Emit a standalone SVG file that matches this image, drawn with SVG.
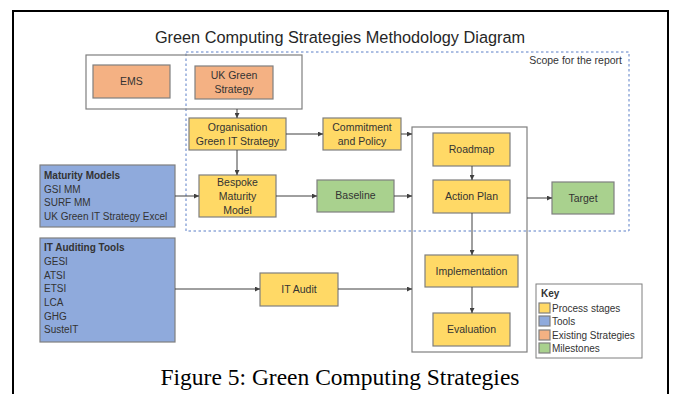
<svg xmlns="http://www.w3.org/2000/svg" width="673" height="394" viewBox="0 0 673 394">
<defs>
<style>
.t{font-family:"Liberation Sans",Arial,sans-serif;fill:#333;}
.box{stroke:#7f7f7f;stroke-width:1.2;}
.y{fill:#ffd966;}
.b{fill:#8faadc;}
.o{fill:#f4b183;}
.g{fill:#a9d18e;}
.c{stroke:#404040;stroke-width:1;fill:none;marker-end:url(#ah);}
.lbl{font-size:10.5px;text-anchor:middle;}
.lst{font-size:10px;}
</style>
<marker id="ah" viewBox="0 0 6 6" refX="6" refY="3" markerWidth="5" markerHeight="5" orient="auto" markerUnits="userSpaceOnUse">
<path d="M0,0 L6,3 L0,6 z" fill="#404040"/>
</marker>
</defs>
<rect width="673" height="394" fill="#fff"/>
<rect x="13" y="11" width="655" height="400" fill="#fff" stroke="#000" stroke-width="2"/>
<text class="t" x="340" y="43" font-size="16.3" text-anchor="middle" style="fill:#262626">Green Computing Strategies Methodology Diagram</text>

<g id="scope">
<rect x="186" y="52" width="443" height="179" fill="none" stroke="#5b7fc7" stroke-width="1" stroke-dasharray="2.5,2.5"/>
<text class="t" x="622" y="64" font-size="10.5" text-anchor="end">Scope for the report</text>
</g>

<g id="existing-container">
<rect x="86" y="55" width="216" height="54" fill="none" stroke="#7f7f7f" stroke-width="1.2"/>
</g>
<g id="ems">
<rect class="box o" x="93" y="65" width="77" height="33"/>
<text class="t lbl" x="131.5" y="85">EMS</text>
</g>
<g id="uk-green-strategy">
<rect class="box o" x="195" y="66" width="78" height="33"/>
<text class="t lbl" x="234" y="79">UK Green</text>
<text class="t lbl" x="234" y="93">Strategy</text>
</g>

<g id="org-strategy">
<rect class="box y" x="189" y="118" width="97" height="32"/>
<text class="t lbl" x="237.5" y="131">Organisation</text>
<text class="t lbl" x="237.5" y="145">Green IT Strategy</text>
</g>
<g id="commitment">
<rect class="box y" x="323" y="118" width="78" height="32"/>
<text class="t lbl" x="362" y="131">Commitment</text>
<text class="t lbl" x="362" y="145">and Policy</text>
</g>
<g id="bespoke">
<rect class="box y" x="199" y="175" width="77" height="42"/>
<text class="t lbl" x="237.5" y="186">Bespoke</text>
<text class="t lbl" x="237.5" y="200">Maturity</text>
<text class="t lbl" x="237.5" y="214">Model</text>
</g>
<g id="baseline">
<rect class="box g" x="317" y="180" width="77" height="32"/>
<text class="t lbl" x="355.5" y="199">Baseline</text>
</g>

<g id="maturity-models">
<rect class="box b" x="40" y="165" width="135" height="62"/>
<text class="t lst" x="44" y="179" font-weight="bold">Maturity Models</text>
<text class="t lst" x="44" y="193">GSI MM</text>
<text class="t lst" x="44" y="206">SURF MM</text>
<text class="t lst" x="44" y="220">UK Green IT Strategy Excel</text>
</g>
<g id="it-auditing-tools">
<rect class="box b" x="40" y="238" width="135" height="104"/>
<text class="t lst" x="44" y="251" font-weight="bold">IT Auditing Tools</text>
<text class="t lst" x="44" y="265">GESI</text>
<text class="t lst" x="44" y="279">ATSI</text>
<text class="t lst" x="44" y="292">ETSI</text>
<text class="t lst" x="44" y="306">LCA</text>
<text class="t lst" x="44" y="320">GHG</text>
<text class="t lst" x="44" y="333">SusteIT</text>
</g>
<g id="it-audit">
<rect class="box y" x="260" y="273" width="78" height="33"/>
<text class="t lbl" x="299" y="293">IT Audit</text>
</g>

<g id="process-container">
<rect x="412" y="127" width="115" height="225" fill="none" stroke="#7f7f7f" stroke-width="1.2"/>
</g>
<g id="roadmap">
<rect class="box y" x="433" y="133" width="77" height="33"/>
<text class="t lbl" x="471.5" y="153">Roadmap</text>
</g>
<g id="action-plan">
<rect class="box y" x="433" y="180" width="77" height="33"/>
<text class="t lbl" x="471.5" y="200">Action Plan</text>
</g>
<g id="implementation">
<rect class="box y" x="425" y="255" width="93" height="32"/>
<text class="t lbl" x="471.5" y="275">Implementation</text>
</g>
<g id="evaluation">
<rect class="box y" x="433" y="313" width="77" height="33"/>
<text class="t lbl" x="471.5" y="333">Evaluation</text>
</g>
<g id="target">
<rect class="box g" x="552" y="182" width="62" height="32"/>
<text class="t lbl" x="583" y="202">Target</text>
</g>

<g id="connectors">
<path class="c" d="M237,109 V118"/>
<path class="c" d="M286,134 H323"/>
<path class="c" d="M237,150 V175"/>
<path class="c" d="M276,196 H317"/>
<path class="c" d="M175,196 H199"/>
<path class="c" d="M175,289 H260"/>
<path class="c" d="M338,289 H412"/>
<path class="c" d="M401,134 H412"/>
<path class="c" d="M394,196 H412"/>
<path class="c" d="M472,166 V180"/>
<path class="c" d="M472,213 V255"/>
<path class="c" d="M472,287 V313"/>
<path class="c" d="M527,198 H552"/>
</g>

<g id="key">
<rect x="536" y="284" width="106" height="74" fill="#fff" stroke="#7f7f7f" stroke-width="1"/>
<text class="t" x="541" y="297" font-size="10" font-weight="bold">Key</text>
<rect class="box y" x="539" y="303" width="11" height="10" stroke-width="0.8"/>
<rect class="box b" x="539" y="316" width="11" height="10" stroke-width="0.8"/>
<rect class="box o" x="539" y="330" width="11" height="10" stroke-width="0.8"/>
<rect class="box g" x="539" y="343" width="11" height="10" stroke-width="0.8"/>
<text class="t" x="552" y="311.5" font-size="10">Process stages</text>
<text class="t" x="552" y="325" font-size="10">Tools</text>
<text class="t" x="552" y="338.5" font-size="10">Existing Strategies</text>
<text class="t" x="552" y="352" font-size="10">Milestones</text>
</g>

<text x="340" y="385" font-family="'Liberation Serif','Times New Roman',serif" font-size="23.5" text-anchor="middle" fill="#000">Figure 5: Green Computing Strategies</text>
</svg>
